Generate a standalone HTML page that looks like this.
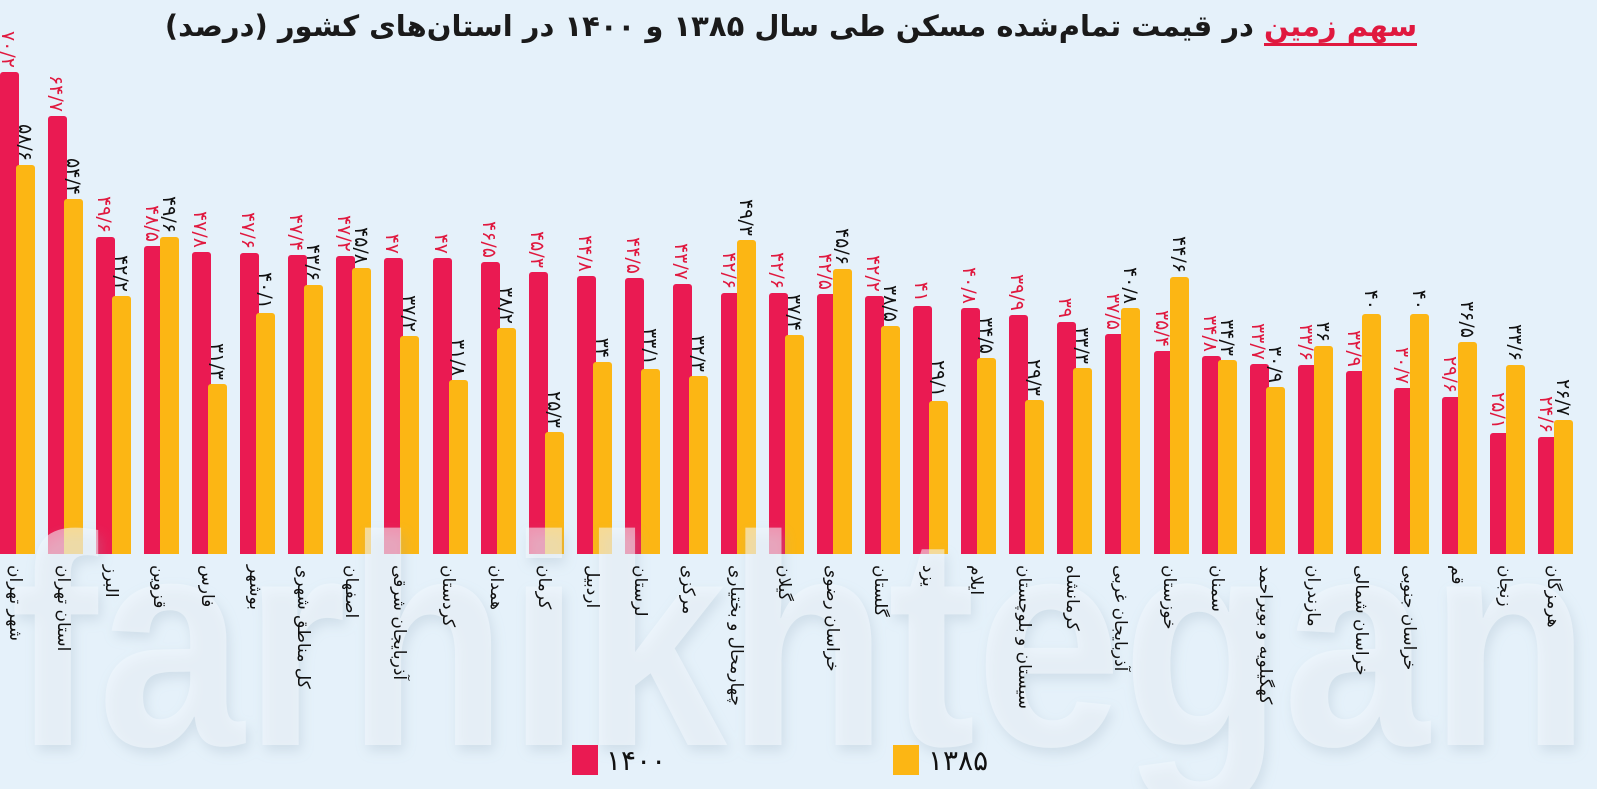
<!DOCTYPE html>
<html><head><meta charset="utf-8"><style>
body{margin:0;width:1597px;height:789px;overflow:hidden;background:#e5f1fa;}
.t{position:absolute;top:9px;left:0;width:1582px;text-align:center;direction:rtl;font-family:"DejaVu Sans",sans-serif;font-size:29px;font-weight:bold;color:#1a1a1a;}
.t span{color:#e0193f;border-bottom:3px solid #e0193f;}
svg{position:absolute;left:0;top:0}
.n text{direction:ltr;unicode-bidi:bidi-override;}
</style></head><body>
<svg width="1597" height="789" font-family="DejaVu Sans, sans-serif">
<defs><filter id="sh" x="-5%" y="-20%" width="110%" height="140%"><feDropShadow dx="3" dy="6" stdDeviation="6" flood-color="#8ea4b6" flood-opacity="0.45"/></filter></defs>
<g fill="#ea1a52">
<rect x="0" y="72" width="19" height="485" rx="3"/><rect x="48" y="116" width="19" height="441" rx="3"/><rect x="96" y="237" width="19" height="320" rx="3"/><rect x="144" y="246" width="19" height="311" rx="3"/><rect x="192" y="252" width="19" height="305" rx="3"/><rect x="240" y="253" width="19" height="304" rx="3"/><rect x="288" y="255" width="19" height="302" rx="3"/><rect x="336" y="256" width="19" height="301" rx="3"/><rect x="384" y="258" width="19" height="299" rx="3"/><rect x="433" y="258" width="19" height="299" rx="3"/><rect x="481" y="262" width="19" height="295" rx="3"/><rect x="529" y="272" width="19" height="285" rx="3"/><rect x="577" y="276" width="19" height="281" rx="3"/><rect x="625" y="278" width="19" height="279" rx="3"/><rect x="673" y="284" width="19" height="273" rx="3"/><rect x="721" y="293" width="19" height="264" rx="3"/><rect x="769" y="293" width="19" height="264" rx="3"/><rect x="817" y="294" width="19" height="263" rx="3"/><rect x="865" y="296" width="19" height="261" rx="3"/><rect x="913" y="306" width="19" height="251" rx="3"/><rect x="961" y="308" width="19" height="249" rx="3"/><rect x="1009" y="315" width="19" height="242" rx="3"/><rect x="1057" y="322" width="19" height="235" rx="3"/><rect x="1105" y="334" width="19" height="223" rx="3"/><rect x="1154" y="351" width="19" height="206" rx="3"/><rect x="1202" y="356" width="19" height="201" rx="3"/><rect x="1250" y="364" width="19" height="193" rx="3"/><rect x="1298" y="365" width="19" height="192" rx="3"/><rect x="1346" y="371" width="19" height="186" rx="3"/><rect x="1394" y="388" width="19" height="169" rx="3"/><rect x="1442" y="397" width="19" height="160" rx="3"/><rect x="1490" y="433" width="19" height="124" rx="3"/><rect x="1538" y="437" width="19" height="120" rx="3"/>
</g>
<g fill="#fcb614">
<rect x="16" y="165" width="19" height="392" rx="3"/><rect x="64" y="199" width="19" height="358" rx="3"/><rect x="112" y="296" width="19" height="261" rx="3"/><rect x="160" y="237" width="19" height="320" rx="3"/><rect x="208" y="384" width="19" height="173" rx="3"/><rect x="256" y="313" width="19" height="244" rx="3"/><rect x="304" y="285" width="19" height="272" rx="3"/><rect x="352" y="268" width="19" height="289" rx="3"/><rect x="400" y="336" width="19" height="221" rx="3"/><rect x="449" y="380" width="19" height="177" rx="3"/><rect x="497" y="328" width="19" height="229" rx="3"/><rect x="545" y="432" width="19" height="125" rx="3"/><rect x="593" y="362" width="19" height="195" rx="3"/><rect x="641" y="369" width="19" height="188" rx="3"/><rect x="689" y="376" width="19" height="181" rx="3"/><rect x="737" y="240" width="19" height="317" rx="3"/><rect x="785" y="335" width="19" height="222" rx="3"/><rect x="833" y="269" width="19" height="288" rx="3"/><rect x="881" y="326" width="19" height="231" rx="3"/><rect x="929" y="401" width="19" height="156" rx="3"/><rect x="977" y="358" width="19" height="199" rx="3"/><rect x="1025" y="400" width="19" height="157" rx="3"/><rect x="1073" y="368" width="19" height="189" rx="3"/><rect x="1121" y="308" width="19" height="249" rx="3"/><rect x="1170" y="277" width="19" height="280" rx="3"/><rect x="1218" y="360" width="19" height="197" rx="3"/><rect x="1266" y="387" width="19" height="170" rx="3"/><rect x="1314" y="346" width="19" height="211" rx="3"/><rect x="1362" y="314" width="19" height="243" rx="3"/><rect x="1410" y="314" width="19" height="243" rx="3"/><rect x="1458" y="342" width="19" height="215" rx="3"/><rect x="1506" y="365" width="19" height="192" rx="3"/><rect x="1554" y="420" width="19" height="137" rx="3"/>
</g>
<rect x="0" y="554" width="1597" height="235" fill="#e5f1fa"/>
<text x="10" y="745" font-size="300" font-family="Liberation Sans, sans-serif" font-weight="bold" fill="#f2f8fd" fill-opacity="0.55" filter="url(#sh)" textLength="1580" lengthAdjust="spacingAndGlyphs">farhikhtegan</text>
<g class="n" font-size="19" fill="#e0193f" text-anchor="end">
<text transform="translate(2,68) rotate(90)">۷۰/۲</text><text transform="translate(50,112) rotate(90)">۶۴/۷</text><text transform="translate(98,233) rotate(90)">۴۹/۶</text><text transform="translate(146,242) rotate(90)">۴۸/۵</text><text transform="translate(194,248) rotate(90)">۴۷/۸</text><text transform="translate(242,249) rotate(90)">۴۷/۶</text><text transform="translate(290,251) rotate(90)">۴۷/۴</text><text transform="translate(338,252) rotate(90)">۴۷/۲</text><text transform="translate(386,254) rotate(90)">۴۷</text><text transform="translate(435,254) rotate(90)">۴۷</text><text transform="translate(483,258) rotate(90)">۴۶/۵</text><text transform="translate(531,268) rotate(90)">۴۵/۳</text><text transform="translate(579,272) rotate(90)">۴۴/۸</text><text transform="translate(627,274) rotate(90)">۴۴/۵</text><text transform="translate(675,280) rotate(90)">۴۳/۷</text><text transform="translate(723,289) rotate(90)">۴۲/۶</text><text transform="translate(771,289) rotate(90)">۴۲/۶</text><text transform="translate(819,290) rotate(90)">۴۲/۵</text><text transform="translate(867,292) rotate(90)">۴۲/۲</text><text transform="translate(915,302) rotate(90)">۴۱</text><text transform="translate(963,304) rotate(90)">۴۰/۸</text><text transform="translate(1011,311) rotate(90)">۳۹/۹</text><text transform="translate(1059,318) rotate(90)">۳۹</text><text transform="translate(1107,330) rotate(90)">۳۷/۵</text><text transform="translate(1156,347) rotate(90)">۳۵/۴</text><text transform="translate(1204,352) rotate(90)">۳۴/۸</text><text transform="translate(1252,360) rotate(90)">۳۳/۷</text><text transform="translate(1300,361) rotate(90)">۳۳/۶</text><text transform="translate(1348,367) rotate(90)">۳۲/۹</text><text transform="translate(1396,384) rotate(90)">۳۰/۷</text><text transform="translate(1444,393) rotate(90)">۲۹/۶</text><text transform="translate(1492,429) rotate(90)">۲۵/۱</text><text transform="translate(1540,433) rotate(90)">۲۴/۶</text>
</g>
<g class="n" font-size="19" fill="#111" text-anchor="end">
<text transform="translate(19,161) rotate(90)">۵۸/۶</text><text transform="translate(67,195) rotate(90)">۵۴/۴</text><text transform="translate(115,292) rotate(90)">۴۲/۲</text><text transform="translate(163,233) rotate(90)">۴۹/۶</text><text transform="translate(211,380) rotate(90)">۳۱/۳</text><text transform="translate(259,309) rotate(90)">۴۰/۱</text><text transform="translate(307,281) rotate(90)">۴۳/۶</text><text transform="translate(355,264) rotate(90)">۴۵/۸</text><text transform="translate(403,332) rotate(90)">۳۷/۲</text><text transform="translate(452,376) rotate(90)">۳۱/۸</text><text transform="translate(500,324) rotate(90)">۳۸/۲</text><text transform="translate(548,428) rotate(90)">۲۵/۳</text><text transform="translate(596,358) rotate(90)">۳۴</text><text transform="translate(644,365) rotate(90)">۳۳/۱</text><text transform="translate(692,372) rotate(90)">۳۲/۳</text><text transform="translate(740,236) rotate(90)">۴۹/۳</text><text transform="translate(788,331) rotate(90)">۳۷/۴</text><text transform="translate(836,265) rotate(90)">۴۵/۶</text><text transform="translate(884,322) rotate(90)">۳۸/۵</text><text transform="translate(932,397) rotate(90)">۲۹/۱</text><text transform="translate(980,354) rotate(90)">۳۴/۵</text><text transform="translate(1028,396) rotate(90)">۲۹/۳</text><text transform="translate(1076,364) rotate(90)">۳۳/۳</text><text transform="translate(1124,304) rotate(90)">۴۰/۸</text><text transform="translate(1173,273) rotate(90)">۴۴/۶</text><text transform="translate(1221,356) rotate(90)">۳۴/۳</text><text transform="translate(1269,383) rotate(90)">۳۰/۹</text><text transform="translate(1317,342) rotate(90)">۳۶</text><text transform="translate(1365,310) rotate(90)">۴۰</text><text transform="translate(1413,310) rotate(90)">۴۰</text><text transform="translate(1461,338) rotate(90)">۳۶/۵</text><text transform="translate(1509,361) rotate(90)">۳۳/۶</text><text transform="translate(1557,416) rotate(90)">۲۶/۷</text>
</g>
<g font-size="17" fill="#111" text-anchor="start">
<text transform="translate(10,565) rotate(90)">شهر تهران</text><text transform="translate(58,565) rotate(90)">استان تهران</text><text transform="translate(106,565) rotate(90)">البرز</text><text transform="translate(154,565) rotate(90)">قزوین</text><text transform="translate(202,565) rotate(90)">فارس</text><text transform="translate(250,565) rotate(90)">بوشهر</text><text transform="translate(298,565) rotate(90)">کل مناطق شهری</text><text transform="translate(346,565) rotate(90)">اصفهان</text><text transform="translate(394,565) rotate(90)">آذربایجان شرقی</text><text transform="translate(443,565) rotate(90)">کردستان</text><text transform="translate(491,565) rotate(90)">همدان</text><text transform="translate(539,565) rotate(90)">کرمان</text><text transform="translate(587,565) rotate(90)">اردبیل</text><text transform="translate(635,565) rotate(90)">لرستان</text><text transform="translate(683,565) rotate(90)">مرکزی</text><text transform="translate(731,565) rotate(90)">چهارمحال و بختیاری</text><text transform="translate(779,565) rotate(90)">گیلان</text><text transform="translate(827,565) rotate(90)">خراسان رضوی</text><text transform="translate(875,565) rotate(90)">گلستان</text><text transform="translate(923,565) rotate(90)">یزد</text><text transform="translate(971,565) rotate(90)">ایلام</text><text transform="translate(1019,565) rotate(90)">سیستان و بلوچستان</text><text transform="translate(1067,565) rotate(90)">کرمانشاه</text><text transform="translate(1115,565) rotate(90)">آذربایجان غربی</text><text transform="translate(1164,565) rotate(90)">خوزستان</text><text transform="translate(1212,565) rotate(90)">سمنان</text><text transform="translate(1260,565) rotate(90)">کهگیلویه و بویراحمد</text><text transform="translate(1308,565) rotate(90)">مازندران</text><text transform="translate(1356,565) rotate(90)">خراسان شمالی</text><text transform="translate(1404,565) rotate(90)">خراسان جنوبی</text><text transform="translate(1452,565) rotate(90)">قم</text><text transform="translate(1500,565) rotate(90)">زنجان</text><text transform="translate(1548,565) rotate(90)">هرمزگان</text>
</g>
<rect x="572" y="745" width="26" height="30" fill="#ea1a52"/>
<text x="606" y="770" font-size="28" fill="#111">۱۴۰۰</text>
<rect x="893" y="745" width="26" height="30" fill="#fcb614"/>
<text x="928" y="770" font-size="28" fill="#111">۱۳۸۵</text>
</svg>
<div class="t"><span>سهم زمین</span> در قیمت تمام‌شده مسکن طی سال ۱۳۸۵ و ۱۴۰۰ در استان‌های کشور (درصد)</div>
</body></html>
